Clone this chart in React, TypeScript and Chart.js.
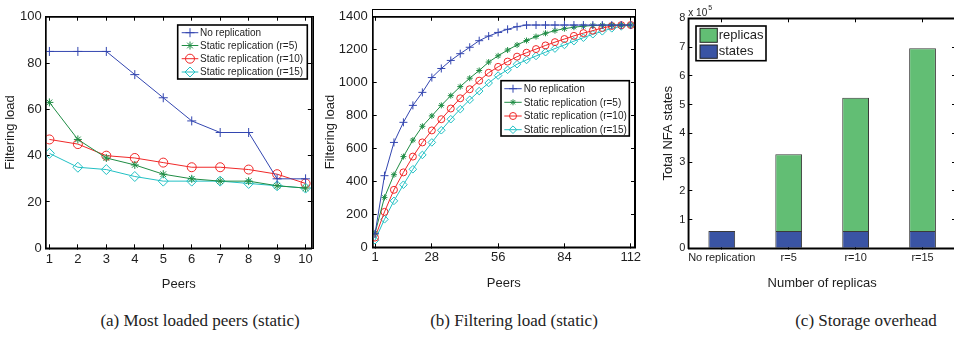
import React, { useEffect, useRef } from 'react';
import { Chart, registerables } from 'chart.js';
import { drawPoint } from 'chart.js/helpers';

Chart.register(...registerables);

const FONT = '"Liberation Sans", Arial, Helvetica, sans-serif';
const TEXT = '#1e1e1e';

const seriesNames = [
  'No replication',
  'Static replication (r=5)',
  'Static replication (r=10)',
  'Static replication (r=15)',
];
const seriesColors = ['#3346b0', '#1f8c44', '#f02828', '#22c0c4'];
const seriesMarkers = ['cross', 'star', 'circle', 'rectRot'];

// ---------- (a) Most loaded peers (static)
const peersA = [1, 2, 3, 4, 5, 6, 7, 8, 9, 10];
const noRepA = [85, 85, 85, 75, 65, 55, 50, 50, 30, 30];
const r5A = [63, 47, 39, 36, 32, 30, 29, 29, 27, 26];
const r10A = [47, 45, 40, 39, 37, 35, 35, 34, 32, 28];
const r15A = [41, 35, 34, 31, 29, 29, 29, 28, 27, 26];
const yTicksA = [0, 20, 40, 60, 80, 100];

// ---------- (b) Filtering load (static)
const pointIndexB = [1, 2, 3, 4, 5, 6, 7, 8, 9, 10, 11, 12, 13, 14, 15, 16, 17, 18, 19, 20, 21, 22, 23, 24, 25, 26, 27, 28];
const noRepB = [82, 435, 637, 759, 862, 941, 1031, 1086, 1135, 1176, 1215, 1255, 1283, 1305, 1324, 1340, 1350, 1350, 1350, 1350, 1350, 1350, 1350, 1350, 1350, 1350, 1350, 1350];
const r5B = [86, 303, 441, 551, 651, 735, 798, 862, 921, 976, 1027, 1074, 1125, 1163, 1198, 1229, 1256, 1280, 1300, 1316, 1328, 1337, 1343, 1347, 1349, 1350, 1350, 1350];
const r10B = [59, 215, 349, 455, 551, 637, 710, 778, 843, 905, 960, 1012, 1060, 1096, 1128, 1158, 1182, 1204, 1226, 1246, 1265, 1284, 1301, 1316, 1332, 1344, 1349, 1350];
const r15B = [43, 170, 282, 380, 474, 561, 637, 711, 778, 839, 896, 949, 998, 1043, 1078, 1112, 1138, 1162, 1185, 1207, 1229, 1252, 1273, 1294, 1312, 1330, 1342, 1350];
const xTickIndexB = [1, 7, 14, 21, 28];
const xTickLabelsB = ['1', '28', '56', '84', '112'];
const yTicksB = [0, 200, 400, 600, 800, 1000, 1200, 1400];

// ---------- (c) Storage overhead (values in units of 10^5)
const categoriesC = ['No replication', 'r=5', 'r=10', 'r=15'];
const statesC = [0.6, 0.6, 0.6, 0.6];
const replicasC = [null, 2.67, 4.64, 6.36];
const yTicksC = [0, 1, 2, 3, 4, 5, 6, 7, 8];

// ---------- legend / exponent / box drawing
function drawExponent(chart: any, opts: any) {
  if (!opts.expText) return;
  const { ctx, chartArea: a } = chart;
  ctx.save();
  ctx.fillStyle = TEXT;
  ctx.textBaseline = 'middle';
  ctx.textAlign = 'left';
  ctx.font = `10px ${FONT}`;
  ctx.fillText(opts.expText, a.left, a.top - 5.5);
  const w = ctx.measureText(opts.expText).width;
  ctx.font = `7px ${FONT}`;
  ctx.fillText(opts.expSup, a.left + w + 1, a.top - 10);
  ctx.restore();
}

function drawBox(chart: any) {
  const ctx = chart.ctx;
  const xs = chart.scales.x;
  const ys = chart.scales.y;
  const L = xs.left, R = xs.right, T = ys.top, B = ys.bottom;
  ctx.save();
  ctx.strokeStyle = '#000';
  ctx.lineWidth = 1.4;
  ctx.beginPath();
  ctx.moveTo(L, T);
  ctx.lineTo(R, T);
  ctx.lineTo(R, B);
  ctx.lineTo(L, B);
  ctx.closePath();
  ctx.stroke();
  ctx.restore();
}

function drawLegend(chart: any, opts: any) {
  const ctx = chart.ctx;
  const [x0, y0, x1, y1] = opts.box;
  ctx.save();
  ctx.fillStyle = '#fff';
  ctx.fillRect(x0, y0, x1 - x0, y1 - y0);
  ctx.strokeStyle = '#000';
  ctx.lineWidth = 1.6;
  ctx.strokeRect(x0, y0, x1 - x0, y1 - y0);
  ctx.font = `${opts.fontSize}px ${FONT}`;
  ctx.textBaseline = 'middle';
  ctx.textAlign = 'left';
  if (opts.kind === 'line') {
    chart.data.datasets.forEach((ds: any, i: number) => {
      const y = opts.rows[i];
      ctx.strokeStyle = ds.borderColor;
      ctx.lineWidth = 1;
      ctx.beginPath();
      ctx.moveTo(opts.lineX[0], y);
      ctx.lineTo(opts.lineX[1], y);
      ctx.stroke();
      ctx.fillStyle = 'rgba(0,0,0,0)';
      drawPoint(ctx, { pointStyle: ds.pointStyle, rotation: 0, radius: ds.pointRadius, borderWidth: 1 } as any,
        (opts.lineX[0] + opts.lineX[1]) / 2, y);
      ctx.fillStyle = TEXT;
      ctx.fillText(ds.label, opts.textX, y + 0.5);
    });
  } else {
    (opts.order as number[]).forEach((di, r) => {
      const ds = chart.data.datasets[di];
      const [py0, py1] = opts.rows[r];
      ctx.fillStyle = ds.backgroundColor;
      ctx.fillRect(opts.patchX[0], py0, opts.patchX[1] - opts.patchX[0], py1 - py0);
      ctx.strokeStyle = '#222';
      ctx.lineWidth = 1;
      ctx.strokeRect(opts.patchX[0], py0, opts.patchX[1] - opts.patchX[0], py1 - py0);
      ctx.fillStyle = TEXT;
      ctx.fillText(ds.label, opts.textX, (py0 + py1) / 2);
    });
  }
  ctx.restore();
}

const decorPlugin = {
  id: 'decor',
  afterDraw(chart: any, _args: any, opts: any) {
    if (!opts || !opts.box) return;
    drawBox(chart);
    drawLegend(chart, opts);
    drawExponent(chart, opts);
  },
};

function lineDataset(label: string, data: any[], i: number, radius: number) {
  return {
    label,
    data,
    borderColor: seriesColors[i],
    backgroundColor: 'rgba(0,0,0,0)',
    pointBackgroundColor: 'rgba(0,0,0,0)',
    pointBorderColor: seriesColors[i],
    pointStyle: seriesMarkers[i],
    pointRadius: radius,
    pointBorderWidth: 1,
    borderWidth: 1,
    tension: 0,
  };
}

const tickFont = (size: number) => ({ family: FONT, size });
// MATLAB-like box: inward tick marks (negative tick length), black axis lines on all four sides
const TICK_IN = 4;
const frameGrid = {
  display: true, drawOnChartArea: false, drawTicks: true, tickLength: -TICK_IN,
  color: '#000000', tickColor: '#000000', lineWidth: 1, tickWidth: 1, offset: false,
};
const frameBorder = { display: true, color: '#000000', width: 1.5 };

function mirrorAxis(base: any, position: string, ticksFrom?: number[]) {
  const horizontal = position === 'top';
  return {
    ...base,
    position,
    grid: frameGrid,
    border: frameBorder,
    ticks: { display: false },
    title: { display: false },
    afterBuildTicks: ticksFrom ? (s: any) => { s.ticks = ticksFrom.map((v) => ({ value: v })); } : undefined,
    afterFit: horizontal ? (s: any) => { s.height = 0; } : (s: any) => { s.width = 0; },
    z: 1,
  };
}

function configA(): any {
  const series = [noRepA, r5A, r10A, r15A];
  const radii = [4.5, 4, 4.5, 5];
  const xBase = { type: 'linear', min: 0.87, max: 10.22 };
  const yBase = { type: 'linear', min: 0, max: 100 };
  return {
    type: 'line',
    data: {
      datasets: series.map((s, i) =>
        lineDataset(seriesNames[i], s.map((v, k) => ({ x: peersA[k], y: v })), i, radii[i])),
    },
    options: {
      animation: false,
      responsive: false,
      layout: { padding: { top: 16.7, right: 6.7, left: 0, bottom: 0 } },
      plugins: {
        legend: { display: false },
        tooltip: { enabled: false },
        decor: { kind: 'line', box: [177.7, 25, 307.3, 79], rows: [32.7, 45.5, 58.7, 72], lineX: [181.7, 198.3], textX: 200, fontSize: 10 },
      },
      scales: {
        x: {
          ...xBase, position: 'bottom',
          grid: frameGrid, border: frameBorder, z: 1,
          afterBuildTicks: (s: any) => { s.ticks = peersA.map((v) => ({ value: v })); },
          afterFit: (s: any) => { s.height = 51.7; },
          ticks: { font: tickFont(13), color: TEXT, padding: 3 + TICK_IN, autoSkip: false, maxRotation: 0 },
          title: { display: true, text: 'Peers', font: tickFont(13), color: TEXT, padding: { top: 0, bottom: 8.2 } },
        },
        x2: mirrorAxis(xBase, 'top', peersA),
        y: {
          ...yBase, position: 'left',
          grid: frameGrid, border: frameBorder, z: 1,
          afterBuildTicks: (s: any) => { s.ticks = yTicksA.map((v) => ({ value: v })); },
          afterFit: (s: any) => { s.width = 45.7; },
          ticks: { font: tickFont(13), color: TEXT, padding: 4 + TICK_IN },
          title: { display: true, text: 'Filtering load', font: tickFont(13), color: TEXT, padding: { top: 2.2, bottom: 0 } },
        },
        y2: mirrorAxis(yBase, 'right', yTicksA),
      },
    },
    plugins: [decorPlugin],
  };
}

function configB(): any {
  const series = [noRepB, r5B, r10B, r15B];
  const radii = [4, 3, 3.5, 3.8];
  const xBase = { type: 'linear', min: 0.757, max: 28.45 };
  const yBase = { type: 'linear', min: 0, max: 1400 };
  return {
    type: 'line',
    data: {
      datasets: series.map((s, i) =>
        lineDataset(seriesNames[i], s.map((v, k) => ({ x: pointIndexB[k], y: v })), i, radii[i])),
    },
    options: {
      animation: false,
      responsive: false,
      layout: { padding: { top: 9.3, right: 15, left: 0, bottom: 0 } },
      plugins: {
        legend: { display: false },
        tooltip: { enabled: false },
        decor: { kind: 'line', box: [181, 80.7, 309.3, 136], rows: [88.7, 102.3, 116, 129.7], lineX: [184.3, 201.7], textX: 203.7, fontSize: 10 },
      },
      scales: {
        x: {
          ...xBase, position: 'bottom',
          grid: frameGrid, border: frameBorder, z: 1,
          afterBuildTicks: (s: any) => { s.ticks = xTickIndexB.map((v) => ({ value: v })); },
          afterFit: (s: any) => { s.height = 52.7; },
          ticks: {
            font: tickFont(13), color: TEXT, padding: 2.5 + TICK_IN, autoSkip: false, maxRotation: 0,
            callback: (v: any) => xTickLabelsB[xTickIndexB.indexOf(v)],
          },
          title: { display: true, text: 'Peers', font: tickFont(13), color: TEXT, padding: { top: 0, bottom: 8.9 } },
        },
        x2: mirrorAxis(xBase, 'top', xTickIndexB),
        y: {
          ...yBase, position: 'left',
          grid: frameGrid, border: frameBorder, z: 1,
          afterBuildTicks: (s: any) => { s.ticks = yTicksB.map((v) => ({ value: v })); },
          afterFit: (s: any) => { s.width = 52.7; },
          ticks: { font: tickFont(13), color: TEXT, padding: 5 + TICK_IN, callback: (v: any) => String(v) },
          title: { display: true, text: 'Filtering load', font: tickFont(13), color: TEXT, padding: { top: 2.2, bottom: 0 } },
        },
        y2: mirrorAxis(yBase, 'right', yTicksB),
      },
    },
    plugins: [decorPlugin],
  };
}

function configC(): any {
  const yBase = { type: 'linear', min: 0, max: 8 };
  return {
    type: 'bar',
    data: {
      labels: categoriesC,
      datasets: [
        {
          label: 'states', data: statesC, backgroundColor: '#3a54a4', borderColor: '#3a3a3a', borderWidth: 1,
          barPercentage: 0.4, categoryPercentage: 1,
        },
        {
          label: 'replicas', data: replicasC, backgroundColor: '#62be74', borderColor: '#3a3a3a', borderWidth: 1,
          barPercentage: 0.4, categoryPercentage: 1,
        },
      ],
    },
    options: {
      animation: false,
      responsive: false,
      layout: { padding: { top: 18.3, right: 2, left: 0, bottom: 0 } },
      plugins: {
        legend: { display: false },
        tooltip: { enabled: false },
        decor: {
          kind: 'bar', box: [56, 26, 126, 60.7], order: [1, 0],
          rows: [[28.3, 42.3], [45, 58.3]], patchX: [60, 77.3], textX: 78.7, fontSize: 13,
          expText: 'x 10', expSup: '5',
        },
      },
      scales: {
        x: {
          type: 'category', position: 'bottom', stacked: true, offset: true,
          grid: frameGrid, border: frameBorder, z: 1,
          afterFit: (s: any) => { s.height = 51.7; },
          ticks: { font: tickFont(11), color: TEXT, padding: 3 + TICK_IN, autoSkip: false, maxRotation: 0 },
          title: { display: true, text: 'Number of replicas', font: tickFont(13), color: TEXT, padding: { top: 0, bottom: 8.9 } },
        },
        x2: mirrorAxis({ type: 'category', offset: true }, 'top'),
        y: {
          ...yBase, position: 'left', stacked: true,
          grid: frameGrid, border: frameBorder, z: 1,
          afterBuildTicks: (s: any) => { s.ticks = yTicksC.map((v) => ({ value: v })); },
          afterFit: (s: any) => { s.width = 48.3; },
          ticks: { font: tickFont(11), color: TEXT, padding: 3 + TICK_IN },
          title: { display: true, text: 'Total NFA states', font: tickFont(13), color: TEXT, padding: { top: 20.5, bottom: 0 } },
        },
        y2: mirrorAxis(yBase, 'right', yTicksC),
      },
    },
    plugins: [decorPlugin],
  };
}

function ChartCanvas({ make, left, top, width, height }: any) {
  const ref = useRef<HTMLCanvasElement>(null);
  useEffect(() => {
    const chart = new Chart(ref.current as HTMLCanvasElement, make());
    return () => chart.destroy();
  }, [make]);
  return (
    <canvas
      ref={ref}
      width={width}
      height={height}
      style={{ position: 'absolute', left, top, width, height, display: 'block' }}
    />
  );
}

// plot-box outlines (axes frame) layered over the canvases
const frameStyle = (left: number, top: number, width: number, height: number): React.CSSProperties => ({
  position: 'absolute', left, top, width, height, boxSizing: 'border-box',
  border: '1px solid #000', pointerEvents: 'none',
});

const captionStyle = (center: number): React.CSSProperties => ({
  position: 'absolute',
  left: center - 150,
  width: 300,
  top: 310,
  textAlign: 'center',
  fontFamily: '"Liberation Serif", "DejaVu Serif", serif',
  fontSize: 17,
  color: '#222',
  whiteSpace: 'nowrap',
  lineHeight: '22px',
});

export default function App() {
  return (
    <div style={{ position: 'absolute', left: 0, top: 0, width: 954, height: 339, overflow: 'hidden', background: '#fff' }}>
      <ChartCanvas make={configA} left={0} top={0} width={320} height={300} />
      <ChartCanvas make={configB} left={320} top={0} width={330} height={300} />
      <ChartCanvas make={configC} left={640} top={0} width={318} height={300} />
      <div style={frameStyle(45, 16, 269, 233)} />
      <div style={frameStyle(372, 9, 264, 239)} />
      <div style={frameStyle(688, 18, 268, 231)} />
      <div style={captionStyle(200)}>(a) Most loaded peers (static)</div>
      <div style={captionStyle(514)}>(b) Filtering load (static)</div>
      <div style={captionStyle(866)}>(c) Storage overhead</div>
    </div>
  );
}
